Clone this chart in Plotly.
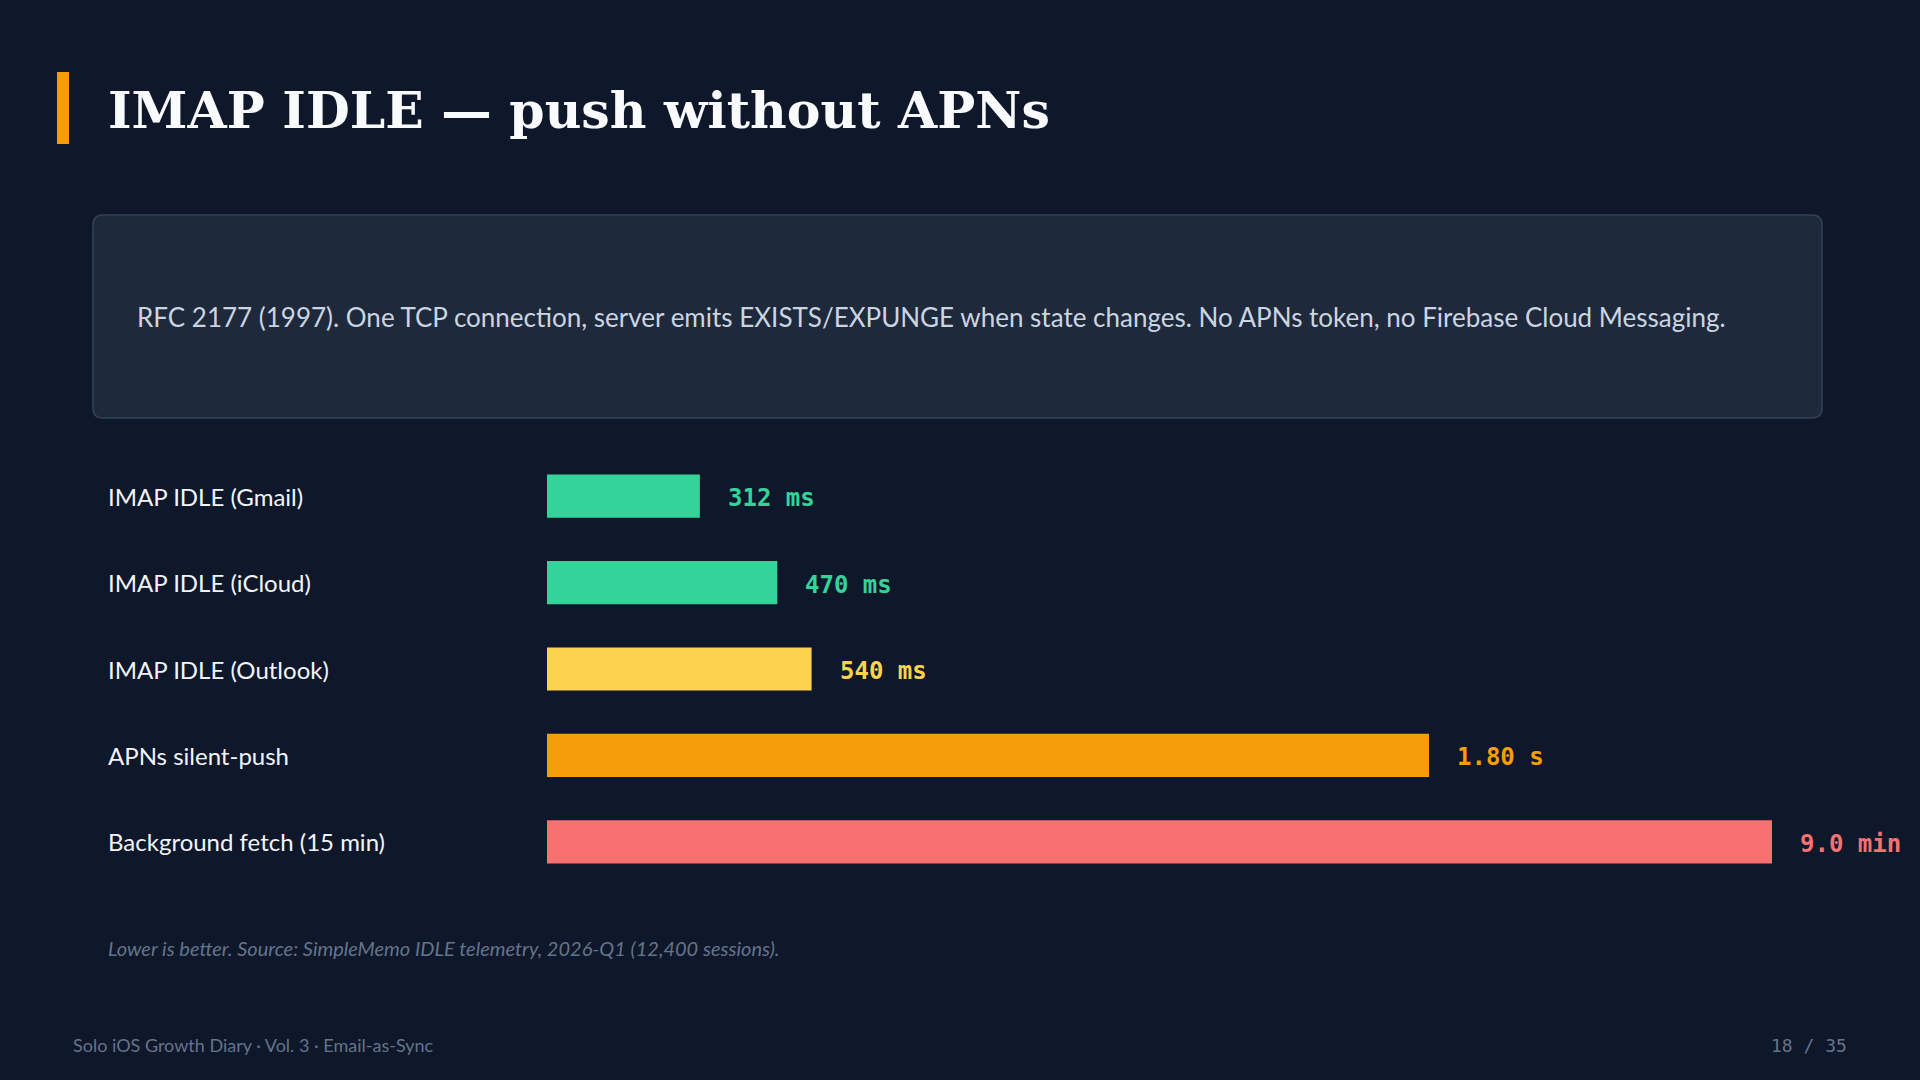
import plotly.graph_objects as go

W, H = 1920, 1080

categories = ["IMAP IDLE (Gmail)", "IMAP IDLE (iCloud)", "IMAP IDLE (Outlook)",
              "APNs silent-push", "Background fetch (15 min)"]
latency_ms = [312, 470, 540, 1800, 540000]
value_labels = ["312 ms", "470 ms", "540 ms", "1.80 s", "9.0 min"]
bar_colors = ["#34d399", "#34d399", "#fcd34d", "#f59e0b", "#f87171"]

# the 15-min fetch is way off the scale, so the bar is clipped at the cap
display_cap = 2500
shown = [min(v, display_cap) for v in latency_ms]

title = "IMAP IDLE — push without APNs"
card_text = ("RFC 2177 (1997). One TCP connection, server emits EXISTS/EXPUNGE when state changes. "
             "No APNs token, no Firebase Cloud Messaging.")
footnote = "Lower is better. Source: SimpleMemo IDLE telemetry, 2026-Q1 (12,400 sessions)."
footer_left = "Solo iOS Growth Diary · Vol. 3 · Email-as-Sync"
footer_right = "18 / 35"

BG = "#0f172a"
L, R, T, B = 547, 0, 453, 195
PW, PH = W - L - R, H - T - B


def px(x):
    return (x - L) / PW


def py(y):
    return (H - B - y) / PH


fig = go.Figure()
fig.add_trace(go.Bar(
    x=shown, y=categories, orientation="h",
    marker=dict(color=bar_colors, line=dict(width=0)),
    hoverinfo="skip",
))

annotations = []
for cat, val, lab, col in zip(categories, shown, value_labels, bar_colors):
    annotations.append(dict(
        x=px(106), y=cat, xref="paper", yref="y", text=cat, showarrow=False,
        xanchor="left", yanchor="middle",
        font=dict(family="Lato", size=24, color="#f1f5f9"),
    ))
    annotations.append(dict(
        x=val, y=cat, xref="x", yref="y", text="<b>%s</b>" % lab, showarrow=False,
        xanchor="left", yanchor="middle", xshift=26, yshift=-2,
        font=dict(family="DejaVu Sans Mono", size=24, color=col),
    ))

annotations += [
    dict(x=px(106), y=py(110), xref="paper", yref="paper", text="<b>%s</b>" % title,
         showarrow=False, xanchor="left", yanchor="middle",
         font=dict(family="DejaVu Serif", size=50.5, color="#f8fafc")),
    dict(x=px(135), y=py(317), xref="paper", yref="paper", text=card_text,
         showarrow=False, xanchor="left", yanchor="middle",
         font=dict(family="Lato", size=26, color="#cbd5e1")),
    dict(x=px(106), y=py(948), xref="paper", yref="paper", text="<i>%s</i>" % footnote,
         showarrow=False, xanchor="left", yanchor="middle",
         font=dict(family="Lato", size=20, color="#64748b")),
    dict(x=px(71), y=py(1045), xref="paper", yref="paper", text=footer_left,
         showarrow=False, xanchor="left", yanchor="middle",
         font=dict(family="Lato", size=18, color="#64748b")),
    dict(x=px(1849), y=py(1045), xref="paper", yref="paper", text=footer_right,
         showarrow=False, xanchor="right", yanchor="middle",
         font=dict(family="DejaVu Sans Mono", size=18, color="#64748b")),
]


def rounded_rect(x0, y0, x1, y1, r):
    # path in paper units, radius given in pixels
    rx, ry = r / PW, r / PH
    a0, a1 = px(x0), px(x1)
    b0, b1 = py(y0), py(y1)  # b0 top, b1 bottom
    return (f"M {a0 + rx},{b0} L {a1 - rx},{b0} Q {a1},{b0} {a1},{b0 - ry} "
            f"L {a1},{b1 + ry} Q {a1},{b1} {a1 - rx},{b1} "
            f"L {a0 + rx},{b1} Q {a0},{b1} {a0},{b1 + ry} "
            f"L {a0},{b0 - ry} Q {a0},{b0} {a0 + rx},{b0} Z")


shapes = [
    dict(type="rect", xref="paper", yref="paper", x0=px(57), x1=px(69), y0=py(72), y1=py(144),
         fillcolor="#f59e0b", line=dict(width=0), layer="below"),
    dict(type="path", xref="paper", yref="paper", path=rounded_rect(93, 215, 1822, 418, 10),
         fillcolor="#1e293b", line=dict(color="#334155", width=1.5), layer="below"),
]

fig.update_layout(
    width=W, height=H,
    margin=dict(l=L, r=R, t=T, b=B, pad=0),
    paper_bgcolor=BG, plot_bgcolor=BG,
    showlegend=False,
    bargap=0.5,
    xaxis=dict(range=[0, PW / 0.49], visible=False, fixedrange=True),
    yaxis=dict(autorange="reversed", visible=False, fixedrange=True),
    annotations=annotations,
    shapes=shapes,
)

# page body has a default margin; drop it so the slide sits flush
fig.write_html("out.html", config={"displayModeBar": False},
               post_script="document.body.style.margin='0';document.body.style.background='%s';" % BG)
